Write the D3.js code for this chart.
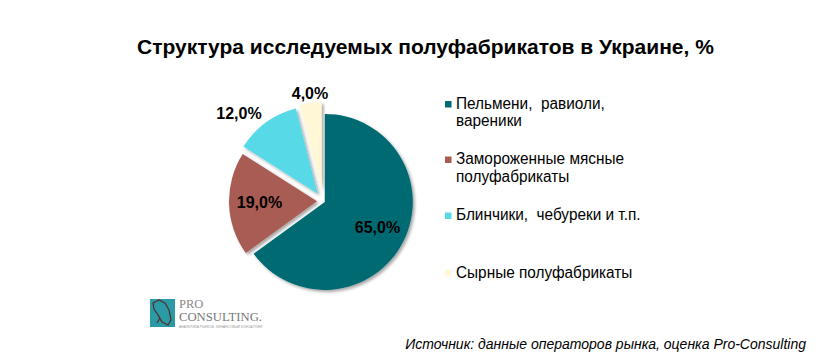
<!DOCTYPE html>
<html><head><meta charset="utf-8">
<script src="https://cdn.jsdelivr.net/npm/d3@7"></script>
<style>body{margin:0;background:#fff;}</style>
</head><body>
<svg id="c" width="836" height="362"></svg>
<script>
const categories = ["Пельмени, равиоли, вареники", "Замороженные мясные полуфабрикаты", "Блинчики,  чебуреки и т.п.", "Сырные полуфабрикаты"];
const legendLines = [["Пельмени,  равиоли,", "вареники"], ["Замороженные мясные", "полуфабрикаты"], ["Блинчики,  чебуреки и т.п."], ["Сырные полуфабрикаты"]];
const values = [65.0, 19.0, 12.0, 4.0];
const colors = ["#006b73", "#a85c52", "#58d9e8", "#fff7d6"];
const title = "Структура исследуемых полуфабрикатов в Украине, %";
const source = "Источник: данные операторов рынка, оценка Pro-Consulting";

const SANS = '"Liberation Sans", Arial, sans-serif';
const SERIF = '"Liberation Serif", "Times New Roman", serif';
const svg = d3.select("#c");
const defs = svg.append("defs");
const f = defs.append("filter").attr("id","sh").attr("x","-20%").attr("y","-20%").attr("width","140%").attr("height","140%");
f.append("feDropShadow").attr("dx",2).attr("dy",2).attr("stdDeviation",1.8).attr("flood-color","#000").attr("flood-opacity",0.35);

svg.append("text").attr("x",425.5).attr("y",53.5).attr("text-anchor","middle").style("font-family",SANS)
  .attr("font-size",21).attr("font-weight","bold").attr("fill","#000").text(title);

// pie
const cx = 323, cy = 201, R = 88;
const explode = [2, 6, 9, 11];
const pie = d3.pie().sort(null).value(d => d);
const arcs = pie(values);
const arc = d3.arc().innerRadius(0).outerRadius(R);
const g = svg.append("g").attr("transform",`translate(${cx},${cy})`);
arcs.forEach((a,i) => {
  const mid = (a.startAngle + a.endAngle)/2;
  const dx = Math.sin(mid)*explode[i], dy = -Math.cos(mid)*explode[i];
  g.append("path").attr("d", arc(a)).attr("fill", colors[i])
    .attr("transform",`translate(${dx},${dy})`).attr("filter","url(#sh)");
});
// data labels
const labelPos = [[377.5,227.5],[259.5,202],[239,113],[310,93.5]];
const fmt = v => d3.format(".1f")(v).replace(".", ",") + "%";
arcs.forEach((a,i) => {
  const p = labelPos[i];
  svg.append("text").attr("x",p[0]).attr("y",p[1]).attr("text-anchor","middle").attr("dominant-baseline","central")
    .style("font-family",SANS).attr("font-size",16).attr("font-weight","bold").attr("fill","#000").text(fmt(values[i]));
});

// legend
const legTop = [101, 156.5, 212.5, 270];
legendLines.forEach((lines,i) => {
  svg.append("rect").attr("x",445).attr("y",legTop[i]).attr("width",6.5).attr("height",6.5).attr("fill",colors[i]);
  lines.forEach((l,j) => {
    svg.append("text").attr("transform",`translate(456,${legTop[i]+7.5+j*17.5}) scale(0.96,1)`)
      .style("font-family",SANS).style("white-space","pre").attr("xml:space","preserve")
      .attr("font-size",16).attr("fill","#000").text(l);
  });
});

// source
svg.append("text").attr("x",806).attr("y",349).attr("text-anchor","end").style("font-family",SANS).attr("font-size",14)
  .attr("font-style","italic").attr("fill","#000").text(source);

// logo
const lg = svg.append("g");
lg.append("rect").attr("x",150).attr("y",299).attr("width",25).attr("height",28).attr("fill","#2a9aa5");
lg.append("path").attr("d","M153,303 L159,300 L165,303 L169,310 L171,320 L168,325 L162,322 L158,315 L154,309 Z M156,312 L160,318 L157,323")
  .attr("fill","none").attr("stroke","#5a2a2a").attr("stroke-width",1.2);
lg.append("text").attr("x",179).attr("y",307.5).style("font-family",SERIF).attr("font-size",12.5).attr("fill","#8a8a8a").text("PRO");
lg.append("text").attr("x",179).attr("y",321).style("font-family",SERIF).attr("font-size",13).attr("fill","#777")
  .attr("textLength",83).attr("lengthAdjust","spacingAndGlyphs").text("CONSULTING.");
lg.append("text").attr("x",179).attr("y",327.5).style("font-family",SANS).attr("font-size",3.6).attr("fill","#999")
  .attr("textLength",84).attr("lengthAdjust","spacingAndGlyphs").text("АНАЛИТИКА РЫНКОВ, ФИНАНСОВЫЙ КОНСАЛТИНГ");
</script>
</body></html>
